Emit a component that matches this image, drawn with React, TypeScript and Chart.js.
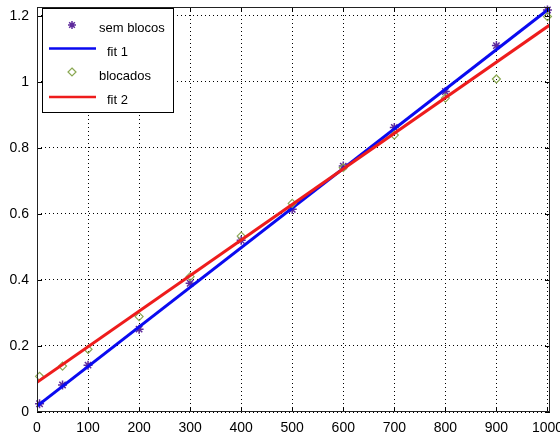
import React, { useEffect, useRef } from 'react';
import { Chart, registerables } from 'chart.js';

Chart.register(...registerables);

// ---- data ----
const semX = [5, 50, 100, 200, 300, 400, 500, 600, 700, 800, 900, 1000];
const semY = [0.025, 0.082, 0.142, 0.251, 0.39, 0.52, 0.614, 0.745, 0.862, 0.971, 1.11, 1.218];
const bloX = [5, 50, 100, 200, 300, 400, 500, 600, 700, 800, 900, 1000];
const bloY = [0.108, 0.139, 0.19, 0.289, 0.41, 0.533, 0.632, 0.74, 0.839, 0.951, 1.009, 1.198];
const fitX = [0, 1005];
const fit1Y = [0.018, 1.224];
const fit2Y = [0.09, 1.173];
const xTicks = [0, 100, 200, 300, 400, 500, 600, 700, 800, 900, 1000];
const yTicks = [0, 0.2, 0.4, 0.6, 0.8, 1, 1.2];
const legendLabels = ['sem blocos', 'fit 1', 'blocados', 'fit 2'];

const X_MAX = 1005;
const Y_MAX = 1.227;

const PURPLE = '#5e2a9c';
const GREEN = '#8aa852';
const BLUE = '#0a0af0';
const RED = '#ee1c1c';
const FONT = "'Liberation Sans', Arial, sans-serif";

const toPts = (xs: number[], ys: number[]) => xs.map((x, i) => ({ x, y: ys[i] }));

function drawAsterisk(ctx: CanvasRenderingContext2D, x: number, y: number, r: number, color: string) {
  ctx.save();
  ctx.strokeStyle = color;
  ctx.lineWidth = 1.5;
  ctx.beginPath();
  ctx.moveTo(x - r, y); ctx.lineTo(x + r, y);
  ctx.moveTo(x, y - r); ctx.lineTo(x, y + r);
  const d = r * 0.7071;
  ctx.moveTo(x - d, y - d); ctx.lineTo(x + d, y + d);
  ctx.moveTo(x - d, y + d); ctx.lineTo(x + d, y - d);
  ctx.stroke();
  ctx.restore();
}

function drawDiamond(ctx: CanvasRenderingContext2D, x: number, y: number, r: number, color: string) {
  ctx.save();
  ctx.strokeStyle = color;
  ctx.lineWidth = 1.2;
  ctx.beginPath();
  ctx.moveTo(x, y - r); ctx.lineTo(x + r, y); ctx.lineTo(x, y + r); ctx.lineTo(x - r, y);
  ctx.closePath();
  ctx.stroke();
  ctx.restore();
}

const boxPlugin = {
  id: 'matlabBox',
  afterDatasetsDraw(chart: any) {
    const { ctx, chartArea: a, scales } = chart;
    ctx.save();
    ctx.strokeStyle = '#000';
    ctx.lineWidth = 1;
    ctx.setLineDash([]);
    ctx.beginPath();
    for (const v of xTicks) {
      const x = Math.round(scales.x.getPixelForValue(v)) + 0.5;
      ctx.moveTo(x, a.bottom); ctx.lineTo(x, a.bottom - 5);
      ctx.moveTo(x, a.top); ctx.lineTo(x, a.top + 5);
    }
    for (const v of yTicks) {
      const y = Math.round(scales.y.getPixelForValue(v)) + 0.5;
      ctx.moveTo(a.left, y); ctx.lineTo(a.left + 5, y);
      ctx.moveTo(a.right, y); ctx.lineTo(a.right - 5, y);
    }
    ctx.stroke();
    ctx.strokeStyle = '#222';
    ctx.strokeRect(a.left + 0.5, a.top + 0.5, a.right - a.left - 1, a.bottom - a.top - 1);

    // legend
    const lx = 42, ly = 8, lw = 131, lh = 104;
    ctx.fillStyle = '#fff';
    ctx.fillRect(lx, ly, lw, lh);
    ctx.strokeStyle = '#000';
    ctx.strokeRect(lx + 0.5, ly + 0.5, lw, lh);

    drawAsterisk(ctx, 72, 25, 4, PURPLE);
    ctx.strokeStyle = BLUE; ctx.lineWidth = 2.5;
    ctx.beginPath(); ctx.moveTo(49, 48.5); ctx.lineTo(96, 48.5); ctx.stroke();
    drawDiamond(ctx, 72, 72, 4, GREEN);
    ctx.strokeStyle = RED; ctx.lineWidth = 2.5;
    ctx.beginPath(); ctx.moveTo(49, 97); ctx.lineTo(96, 97); ctx.stroke();

    ctx.fillStyle = '#000';
    ctx.font = `13px ${FONT}`;
    ctx.textBaseline = 'middle';
    ctx.textAlign = 'left';
    ctx.fillText(legendLabels[0], 99, 28);
    ctx.fillText(legendLabels[1], 107, 52);
    ctx.fillText(legendLabels[2], 99, 76);
    ctx.fillText(legendLabels[3], 107, 100);
    ctx.restore();
  },
};

const fmt = (v: number) => String(Number(Number(v).toFixed(2)));

export default function App() {
  const ref = useRef<HTMLCanvasElement | null>(null);
  useEffect(() => {
    if (!ref.current) return;
    const chart = new Chart(ref.current, {
      type: 'scatter',
      data: {
        datasets: [
          {
            label: legendLabels[3],
            data: toPts(fitX, fit2Y),
            showLine: true,
            borderColor: RED,
            borderWidth: 3,
            pointRadius: 0,
            backgroundColor: RED,
          },
          {
            label: legendLabels[2],
            data: toPts(bloX, bloY),
            showLine: false,
            pointStyle: 'rectRot',
            pointRadius: 4,
            borderColor: GREEN,
            backgroundColor: 'rgba(0,0,0,0)',
            pointBorderWidth: 1.2,
            clip: false,
          } as any,
          {
            label: legendLabels[1],
            data: toPts(fitX, fit1Y),
            showLine: true,
            borderColor: BLUE,
            borderWidth: 3,
            pointRadius: 0,
            backgroundColor: BLUE,
          },
          {
            label: legendLabels[0],
            data: toPts(semX, semY),
            showLine: false,
            pointStyle: 'star',
            pointRadius: 4.5,
            borderColor: PURPLE,
            backgroundColor: PURPLE,
            pointBorderWidth: 1.5,
            clip: false,
          } as any,
        ],
      },
      options: {
        animation: false,
        responsive: false,
        events: [],
        layout: { padding: { top: 7, right: 10, left: 0, bottom: 0 } },
        plugins: { legend: { display: false }, tooltip: { enabled: false } },
        scales: {
          x: {
            type: 'linear',
            min: 0,
            max: X_MAX,
            afterBuildTicks: (s: any) => { s.ticks = xTicks.map((v) => ({ value: v })); },
            afterFit: (s: any) => { s.height = 26; s.paddingLeft = 0; s.paddingRight = 0; },
            ticks: {
              includeBounds: false,
              autoSkip: false,
              maxRotation: 0,
              padding: 8,
              color: '#000',
              font: { family: FONT, size: 14 },
              callback: (v: any) => fmt(v),
            },
            grid: { color: '#000', lineWidth: 1, drawTicks: false },
            border: { display: false, dash: [1, 3] },
          },
          y: {
            type: 'linear',
            min: 0,
            max: Y_MAX,
            afterBuildTicks: (s: any) => { s.ticks = yTicks.map((v) => ({ value: v })); },
            afterFit: (s: any) => { s.width = 37; s.paddingTop = 0; s.paddingBottom = 0; },
            ticks: {
              includeBounds: false,
              autoSkip: false,
              padding: 8,
              color: '#000',
              font: { family: FONT, size: 14 },
              callback: (v: any) => fmt(v),
            },
            grid: { color: '#000', lineWidth: 1, drawTicks: false },
            border: { display: false, dash: [1, 3] },
          },
        },
      } as any,
      plugins: [boxPlugin],
    });
    return () => chart.destroy();
  }, []);
  return (
    <div style={{ position: 'absolute', left: 0, top: 0, width: 560, height: 438, background: '#fff' }}>
      <canvas ref={ref} width={560} height={438} style={{ display: 'block' }} />
    </div>
  );
}
